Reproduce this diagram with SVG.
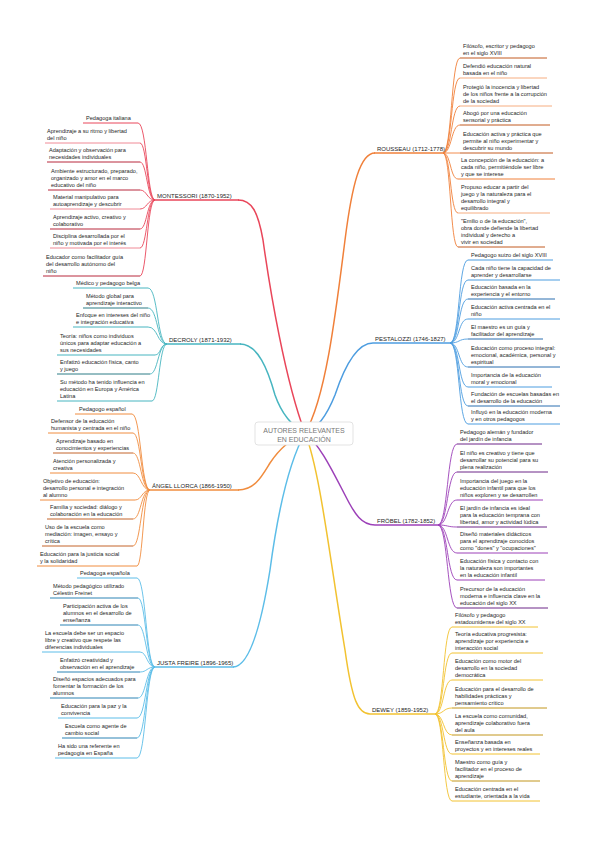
<svg xmlns="http://www.w3.org/2000/svg" width="599" height="848" viewBox="0 0 599 848">
<style>
text{font-family:"Liberation Sans",Arial,sans-serif;fill:#262626;font-size:5.6px}
.lb{font-size:6px;fill:#262626}
.ct{font-size:7px;fill:#777;text-anchor:middle}
path,line{fill:none}
.m{stroke-width:1.5}
.c{stroke-width:0.9}
.u{stroke-width:1}
.red{stroke:#e9465a}.redd{stroke:#b8283c}.redl{stroke:#f08a96}
.tea{stroke:#47b5c0}.tead{stroke:#2d7c86}
.ora{stroke:#f08c3e}.orad{stroke:#c4642a}
.lbl{stroke:#5cbde8}.lbld{stroke:#2d84b5}
.rou{stroke:#f0803a}.roud{stroke:#c25a20}.roul{stroke:#f6ad80}
.blu{stroke:#4d9de0}.blud{stroke:#2a6fb0}
.pur{stroke:#9c40b8}.purd{stroke:#6c2788}
.yel{stroke:#f2c230}.yeld{stroke:#c2961c}
</style>
<rect width="599" height="848" fill="#fff"/>
<g id="connectors">
<path class="m red" d="M305 433 C285 380 270 290 263 240 C258 212 252 200 238 200"/>
<path class="m tea" d="M305 433 C290 425 281 412 275 395 C268 370 258 344 240 344"/>
<path class="m ora" d="M305 433 C290 440 280 448 270 463 C262 476 255 490 238 490"/>
<path class="m lbl" d="M305 433 C290 460 278 510 270 570 C262 620 250 667 233 667"/>
<path class="m rou" d="M305 433 C325 400 335 320 345 240 C352 185 360 153 375 153"/>
<path class="m blu" d="M305 433 C315 430 325 420 335 395 C345 365 358 343 373 343"/>
<path class="m pur" d="M305 433 C320 445 332 470 345 495 C355 515 362 525 375 525"/>
<path class="m yel" d="M305 433 C320 470 330 560 345 650 C352 700 358 714 370 714"/>
<path class="c red" d="M155 200 C147 200 147 123 138 123"/>
<path class="c red" d="M155 200 C147 200 147 143 140 143"/>
<path class="c red" d="M155 200 C147 200 147 162 140 162"/>
<path class="c red" d="M155 200 C147 200 147 190 140 190"/>
<path class="c red" d="M155 200 C147 200 147 209 140 209"/>
<path class="c red" d="M155 200 C147 200 147 229 140 229"/>
<path class="c red" d="M155 200 C147 200 147 248 140 248"/>
<path class="c red" d="M155 200 C147 200 147 276 140 276"/>
<path class="c tea" d="M167 344 C157 344 158 288 148 288"/>
<path class="c tea" d="M167 344 C157 344 158 308 148 308"/>
<path class="c tea" d="M167 344 C157 344 158 327 148 327"/>
<path class="c tea" d="M167 344 C160 344 161 355 155 355"/>
<path class="c tea" d="M167 344 C158 344 158 374 150 374"/>
<path class="c tea" d="M167 344 C159 344 159 401 152 401"/>
<path class="c ora" d="M150 490 C141 490 141 414 132 414"/>
<path class="c ora" d="M150 490 C141 490 141 433 133 433"/>
<path class="c ora" d="M150 490 C141 490 141 453 133 453"/>
<path class="c ora" d="M150 490 C141 490 141 473 133 473"/>
<path class="c ora" d="M150 490 C142 490 142 500 135 500"/>
<path class="c ora" d="M150 490 C141 490 141 519 133 519"/>
<path class="c ora" d="M150 490 C141 490 141 546 133 546"/>
<path class="c ora" d="M150 490 C143 490 143 566 137 566"/>
<path class="c lbl" d="M155 667 C146 667 146 578 137 578"/>
<path class="c lbl" d="M155 667 C146 667 146 598 138 598"/>
<path class="c lbl" d="M155 667 C146 667 146 625 138 625"/>
<path class="c lbl" d="M155 667 C147 667 147 652 140 652"/>
<path class="c lbl" d="M155 667 C147 667 147 672 140 672"/>
<path class="c lbl" d="M155 667 C146 667 146 698 138 698"/>
<path class="c lbl" d="M155 667 C146 667 146 718 137 718"/>
<path class="c lbl" d="M155 667 C146 667 146 738 137 738"/>
<path class="c lbl" d="M155 667 C146 667 146 758 137 758"/>
<path class="c rou" d="M443 153 C452 153 451 58 460 58"/>
<path class="c rou" d="M443 153 C452 153 451 78 460 78"/>
<path class="c rou" d="M443 153 C452 153 451 106 460 106"/>
<path class="c rou" d="M443 153 C452 153 451 125 460 125"/>
<path class="c rou" d="M443 153 L460 153"/>
<path class="c rou" d="M443 153 C451 153 450 179 458 179"/>
<path class="c rou" d="M443 153 C451 153 450 213 458 213"/>
<path class="c rou" d="M443 153 C451 153 450 247 458 247"/>
<path class="c blu" d="M450 343 C460 343 458 260 468 260"/>
<path class="c blu" d="M450 343 C460 343 458 280 468 280"/>
<path class="c blu" d="M450 343 C460 343 458 299 468 299"/>
<path class="c blu" d="M450 343 C460 343 458 319 468 319"/>
<path class="c blu" d="M450 343 C460 343 458 339 468 339"/>
<path class="c blu" d="M450 343 C460 343 458 367 468 367"/>
<path class="c blu" d="M450 343 C460 343 458 387 468 387"/>
<path class="c blu" d="M450 343 C460 343 458 406 468 406"/>
<path class="c blu" d="M450 343 C460 343 458 424 468 424"/>
<path class="c pur" d="M438 525 C448 525 447 444 457 444"/>
<path class="c pur" d="M438 525 C448 525 447 472 457 472"/>
<path class="c pur" d="M438 525 C448 525 447 500 457 500"/>
<path class="c pur" d="M438 525 C448 525 447 527 457 527"/>
<path class="c pur" d="M438 525 C448 525 447 553 457 553"/>
<path class="c pur" d="M438 525 C448 525 447 580 457 580"/>
<path class="c pur" d="M438 525 C448 525 447 608 457 608"/>
<path class="c yel" d="M435 714 C444 714 443 627 452 627"/>
<path class="c yel" d="M435 714 C444 714 443 653 452 653"/>
<path class="c yel" d="M435 714 C444 714 443 680 452 680"/>
<path class="c yel" d="M435 714 C444 714 443 708 452 708"/>
<path class="c yel" d="M435 714 C444 714 443 735 452 735"/>
<path class="c yel" d="M435 714 C444 714 443 754 452 754"/>
<path class="c yel" d="M435 714 C444 714 443 781 452 781"/>
<path class="c yel" d="M435 714 C444 714 443 801 452 801"/>
</g>

<g id="center">
<rect x="255" y="422" width="98" height="23" rx="3" fill="#fff" stroke="#dcdcdc" stroke-width="0.8"/>
<text class="ct" x="304" y="432.5">AUTORES RELEVANTES</text>
<text class="ct" x="304" y="441.5">EN EDUCACIÓN</text>
</g>

<g id="montessori">
<line class="m red" x1="155" y1="200" x2="239" y2="200"/>
<text class="lb" x="157" y="198">MONTESSORI (1870-1952)</text>
</g>
<g id="m1"><line class="u red" x1="83" y1="123" x2="138" y2="123"/><text x="86" y="120">Pedagoga italiana</text></g>
<g id="m2"><line class="u redl" x1="45" y1="143" x2="140" y2="143"/><text x="47" y="133">Aprendizaje a su ritmo y libertad</text><text x="47" y="140">del niño</text></g>
<g id="m3"><line class="u redd" x1="47" y1="162" x2="140" y2="162"/><text x="49" y="152">Adaptación y observación para</text><text x="49" y="159">necesidades individuales</text></g>
<g id="m4"><line class="u redd" x1="48" y1="190" x2="140" y2="190"/><text x="51" y="173">Ambiente estructurado, preparado,</text><text x="51" y="180">organizado y amor en el marco</text><text x="51" y="187">educativo del niño</text></g>
<g id="m5"><line class="u redl" x1="50" y1="209" x2="140" y2="209"/><text x="53" y="199">Material manipulativo para</text><text x="53" y="206">autoaprendizaje y descubrir</text></g>
<g id="m6"><line class="u redd" x1="50" y1="229" x2="140" y2="229"/><text x="53" y="219">Aprendizaje activo, creativo y</text><text x="53" y="226">colaborativo</text></g>
<g id="m7"><line class="u redl" x1="50" y1="248" x2="140" y2="248"/><text x="53" y="238">Disciplina desarrollada por el</text><text x="53" y="245">niño y motivada por el interés</text></g>
<g id="m8"><line class="u redd" x1="43" y1="276" x2="140" y2="276"/><text x="46" y="259">Educador como facilitador guía</text><text x="46" y="266">del desarrollo autónomo del</text><text x="46" y="273">niño</text></g>

<g id="decroly">
<line class="m tea" x1="167" y1="344" x2="241" y2="344"/>
<text class="lb" x="169" y="342">DECROLY (1871-1932)</text>
</g>
<g id="d1"><line class="u tea" x1="73" y1="288" x2="148" y2="288"/><text x="76" y="285">Médico y pedagogo belga</text></g>
<g id="d2"><line class="u tead" x1="83" y1="308" x2="148" y2="308"/><text x="86" y="298">Método global para</text><text x="86" y="305">aprendizaje interactivo</text></g>
<g id="d3"><line class="u tea" x1="73" y1="327" x2="148" y2="327"/><text x="76" y="317">Enfoque en intereses del niño</text><text x="76" y="324">e integración educativa</text></g>
<g id="d4"><line class="u tea" x1="57" y1="355" x2="155" y2="355"/><text x="60" y="338">Teoría: niños como individuos</text><text x="60" y="345">únicos para adaptar educación a</text><text x="60" y="352">sus necesidades</text></g>
<g id="d5"><line class="u tead" x1="57" y1="374" x2="150" y2="374"/><text x="60" y="364">Enfatizó educación física, canto</text><text x="60" y="371">y juego</text></g>
<g id="d6"><line class="u tea" x1="57" y1="401" x2="152" y2="401"/><text x="60" y="384">Su método ha tenido influencia en</text><text x="60" y="391">educación en Europa y América</text><text x="60" y="398">Latina</text></g>

<g id="llorca">
<line class="m ora" x1="150" y1="490" x2="239" y2="490"/>
<text class="lb" x="152" y="488">ÁNGEL LLORCA (1866-1950)</text>
</g>
<g id="l1"><line class="u ora" x1="75" y1="414" x2="132" y2="414"/><text x="79" y="411">Pedagogo español</text></g>
<g id="l2"><line class="u ora" x1="48" y1="433" x2="133" y2="433"/><text x="51" y="423">Defensor de la educación</text><text x="51" y="430">humanista y centrada en el niño</text></g>
<g id="l3"><line class="u orad" x1="53" y1="453" x2="133" y2="453"/><text x="56" y="443">Aprendizaje basado en</text><text x="56" y="450">conocimientos y experiencias</text></g>
<g id="l4"><line class="u ora" x1="50" y1="473" x2="133" y2="473"/><text x="53" y="463">Atención personalizada y</text><text x="53" y="470">creativa</text></g>
<g id="l5"><line class="u ora" x1="40" y1="500" x2="135" y2="500"/><text x="43" y="483">Objetivo de educación:</text><text x="43" y="490">desarrollo personal e integración</text><text x="43" y="497">al alumno</text></g>
<g id="l6"><line class="u orad" x1="47" y1="519" x2="133" y2="519"/><text x="50" y="509">Familia y sociedad: diálogo y</text><text x="50" y="516">colaboración en la educación</text></g>
<g id="l7"><line class="u orad" x1="42" y1="546" x2="133" y2="546"/><text x="45" y="529">Uso de la escuela como</text><text x="45" y="536">mediación: imagen, ensayo y</text><text x="45" y="543">crítica</text></g>
<g id="l8"><line class="u ora" x1="37" y1="566" x2="137" y2="566"/><text x="40" y="556">Educación para la justicia social</text><text x="40" y="563">y la solidaridad</text></g>

<g id="freire">
<line class="m lbl" x1="155" y1="667" x2="234" y2="667"/>
<text class="lb" x="157" y="665">JUSTA FREIRE (1896-1965)</text>
</g>
<g id="f1"><line class="u lbl" x1="77" y1="578" x2="137" y2="578"/><text x="80" y="575">Pedagoga española</text></g>
<g id="f2"><line class="u lbld" x1="50" y1="598" x2="138" y2="598"/><text x="53" y="588">Método pedagógico utilizado</text><text x="53" y="595">Célestin Freinet</text></g>
<g id="f3"><line class="u lbld" x1="60" y1="625" x2="138" y2="625"/><text x="63" y="608">Participación activa de los</text><text x="63" y="615">alumnos en el desarrollo de</text><text x="63" y="622">enseñanza</text></g>
<g id="f4"><line class="u lbl" x1="42" y1="652" x2="140" y2="652"/><text x="45" y="635">La escuela debe ser un espacio</text><text x="45" y="642">libre y creativo que respete las</text><text x="45" y="649">diferencias individuales</text></g>
<g id="f5"><line class="u lbld" x1="57" y1="672" x2="140" y2="672"/><text x="60" y="662">Enfatizó creatividad y</text><text x="60" y="669">observación en el aprendizaje</text></g>
<g id="f6"><line class="u lbld" x1="50" y1="698" x2="138" y2="698"/><text x="53" y="681">Diseñó espacios adecuados para</text><text x="53" y="688">fomentar la formación de los</text><text x="53" y="695">alumnos</text></g>
<g id="f7"><line class="u lbl" x1="58" y1="718" x2="137" y2="718"/><text x="61" y="708">Educación para la paz y la</text><text x="61" y="715">convivencia</text></g>
<g id="f8"><line class="u lbld" x1="62" y1="738" x2="137" y2="738"/><text x="65" y="728">Escuela como agente de</text><text x="65" y="735">cambio social</text></g>
<g id="f9"><line class="u lbl" x1="55" y1="758" x2="137" y2="758"/><text x="58" y="748">Ha sido una referente en</text><text x="58" y="755">pedagogía en España</text></g>

<g id="rousseau">
<line class="m rou" x1="374" y1="153" x2="443" y2="153"/>
<text class="lb" x="377" y="151">ROUSSEAU (1712-1778)</text>
</g>
<g id="r1"><line class="u roud" x1="460" y1="58" x2="547" y2="58"/><text x="463" y="48">Filósofo, escritor y pedagogo</text><text x="463" y="55">en el siglo XVIII</text></g>
<g id="r2"><line class="u roul" x1="460" y1="78" x2="547" y2="78"/><text x="463" y="68">Defendió educación natural</text><text x="463" y="75">basada en el niño</text></g>
<g id="r3"><line class="u roul" x1="460" y1="106" x2="552" y2="106"/><text x="463" y="89">Protegió la inocencia y libertad</text><text x="463" y="96">de los niños frente a la corrupción</text><text x="463" y="103">de la sociedad</text></g>
<g id="r4"><line class="u roud" x1="460" y1="125" x2="550" y2="125"/><text x="463" y="115">Abogó por una educación</text><text x="463" y="122">sensorial y práctica</text></g>
<g id="r5"><line class="u roud" x1="460" y1="153" x2="553" y2="153"/><text x="463" y="136">Educación activa y práctica que</text><text x="463" y="143">permite al niño experimentar y</text><text x="463" y="150">descubrir su mundo</text></g>
<g id="r6"><line class="u rou" x1="458" y1="179" x2="555" y2="179"/><text x="461" y="162">La concepción de la educación: a</text><text x="461" y="169">cada niño, permitiéndole ser libre</text><text x="461" y="176">y que se interese</text></g>
<g id="r7"><line class="u roul" x1="458" y1="213" x2="550" y2="213"/><text x="461" y="189">Propuso educar a partir del</text><text x="461" y="196">juego y la naturaleza para el</text><text x="461" y="203">desarrollo integral y</text><text x="461" y="210">equilibrado</text></g>
<g id="r8"><line class="u roud" x1="458" y1="247" x2="545" y2="247"/><text x="461" y="223">"Emilio o de la educación",</text><text x="461" y="230">obra donde defiende la libertad</text><text x="461" y="237">individual y derecho a</text><text x="461" y="244">vivir en sociedad</text></g>

<g id="pestalozzi">
<line class="m blu" x1="373" y1="343" x2="451" y2="343"/>
<text class="lb" x="375" y="341">PESTALOZZI (1746-1827)</text>
</g>
<g id="p1"><line class="u blu" x1="468" y1="260" x2="553" y2="260"/><text x="471" y="257">Pedagogo suizo del siglo XVIII</text></g>
<g id="p2"><line class="u blu" x1="468" y1="280" x2="560" y2="280"/><text x="471" y="270">Cada niño tiene la capacidad de</text><text x="471" y="277">aprender y desarrollarse</text></g>
<g id="p3"><line class="u blud" x1="468" y1="299" x2="555" y2="299"/><text x="471" y="289">Educación basada en la</text><text x="471" y="296">experiencia y el entorno</text></g>
<g id="p4"><line class="u blu" x1="468" y1="319" x2="560" y2="319"/><text x="471" y="309">Educación activa centrada en el</text><text x="471" y="316">niño</text></g>
<g id="p5"><line class="u blud" x1="468" y1="339" x2="543" y2="339"/><text x="471" y="329">El maestro es un guía y</text><text x="471" y="336">facilitador del aprendizaje</text></g>
<g id="p6"><line class="u blud" x1="468" y1="367" x2="560" y2="367"/><text x="471" y="350">Educación como proceso integral:</text><text x="471" y="357">emocional, académica, personal y</text><text x="471" y="364">espiritual</text></g>
<g id="p7"><line class="u blu" x1="468" y1="387" x2="552" y2="387"/><text x="471" y="377">Importancia de la educación</text><text x="471" y="384">moral y emocional</text></g>
<g id="p8"><line class="u blud" x1="468" y1="406" x2="560" y2="406"/><text x="471" y="396">Fundación de escuelas basadas en</text><text x="471" y="403">el desarrollo de la educación</text></g>
<g id="p9"><line class="u blu" x1="468" y1="424" x2="560" y2="424"/><text x="471" y="414">Influyó en la educación moderna</text><text x="471" y="421">y en otros pedagogos</text></g>

<g id="frobel">
<line class="m pur" x1="375" y1="525" x2="439" y2="525"/>
<text class="lb" x="377" y="523">FRÖBEL (1782-1852)</text>
</g>
<g id="fr1"><line class="u purd" x1="457" y1="444" x2="542" y2="444"/><text x="460" y="434">Pedagogo alemán y fundador</text><text x="460" y="441">del jardín de infancia</text></g>
<g id="fr2"><line class="u purd" x1="457" y1="472" x2="548" y2="472"/><text x="460" y="455">El niño es creativo y tiene que</text><text x="460" y="462">desarrollar su potencial para su</text><text x="460" y="469">plena realización</text></g>
<g id="fr3"><line class="u pur" x1="457" y1="500" x2="543" y2="500"/><text x="460" y="483">Importancia del juego en la</text><text x="460" y="490">educación infantil para que los</text><text x="460" y="497">niños exploren y se desarrollen</text></g>
<g id="fr4"><line class="u purd" x1="457" y1="527" x2="547" y2="527"/><text x="460" y="510">El jardín de infancia es ideal</text><text x="460" y="517">para la educación temprana con</text><text x="460" y="524">libertad, amor y actividad lúdica</text></g>
<g id="fr5"><line class="u pur" x1="457" y1="553" x2="548" y2="553"/><text x="460" y="536">Diseñó materiales didácticos</text><text x="460" y="543">para el aprendizaje conocidos</text><text x="460" y="550">como "dones" y "ocupaciones"</text></g>
<g id="fr6"><line class="u pur" x1="457" y1="580" x2="545" y2="580"/><text x="460" y="563">Educación física y contacto con</text><text x="460" y="570">la naturaleza son importantes</text><text x="460" y="577">en la educación infantil</text></g>
<g id="fr7"><line class="u purd" x1="457" y1="608" x2="548" y2="608"/><text x="460" y="591">Precursor de la educación</text><text x="460" y="598">moderna e influencia clave en la</text><text x="460" y="605">educación del siglo XX</text></g>

<g id="dewey">
<line class="m yel" x1="370" y1="714" x2="436" y2="714"/>
<text class="lb" x="372" y="712">DEWEY (1859-1952)</text>
</g>
<g id="w1"><line class="u yel" x1="452" y1="627" x2="538" y2="627"/><text x="455" y="617">Filósofo y pedagogo</text><text x="455" y="624">estadounidense del siglo XX</text></g>
<g id="w2"><line class="u yel" x1="452" y1="653" x2="543" y2="653"/><text x="455" y="636">Teoría educativa progresista:</text><text x="455" y="643">aprendizaje por experiencia e</text><text x="455" y="650">interacción social</text></g>
<g id="w3"><line class="u yel" x1="452" y1="680" x2="543" y2="680"/><text x="455" y="663">Educación como motor del</text><text x="455" y="670">desarrollo en la sociedad</text><text x="455" y="677">democrática</text></g>
<g id="w4"><line class="u yeld" x1="452" y1="708" x2="547" y2="708"/><text x="455" y="691">Educación para el desarrollo de</text><text x="455" y="698">habilidades prácticas y</text><text x="455" y="705">pensamiento crítico</text></g>
<g id="w5"><line class="u yeld" x1="452" y1="735" x2="543" y2="735"/><text x="455" y="718">La escuela como comunidad,</text><text x="455" y="725">aprendizaje colaborativo fuera</text><text x="455" y="732">del aula</text></g>
<g id="w6"><line class="u yel" x1="452" y1="754" x2="540" y2="754"/><text x="455" y="744">Enseñanza basada en</text><text x="455" y="751">proyectos y en intereses reales</text></g>
<g id="w7"><line class="u yeld" x1="452" y1="781" x2="540" y2="781"/><text x="455" y="764">Maestro como guía y</text><text x="455" y="771">facilitador en el proceso de</text><text x="455" y="778">aprendizaje</text></g>
<g id="w8"><line class="u yel" x1="452" y1="801" x2="540" y2="801"/><text x="455" y="791">Educación centrada en el</text><text x="455" y="798">estudiante, orientada a la vida</text></g>
</svg>
